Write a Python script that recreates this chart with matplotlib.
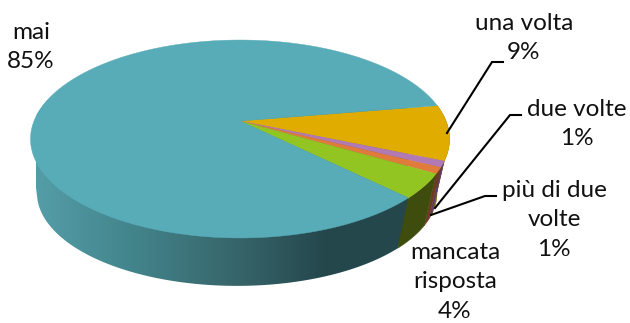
import numpy as np
import matplotlib
matplotlib.use("Agg")
import matplotlib.pyplot as plt
from matplotlib.colors import LinearSegmentedColormap
from matplotlib.patches import Polygon

# Survey answers, clockwise from the upper right of the disc
categories = ["una volta", "due volte", "più di due\nvolte", "mancata\nrisposta", "mai"]
shares = [9, 1, 1, 4, 85]

top_colors = ["#E0AC00", "#B27AB4", "#E07B3C", "#93C522", "#58ACB8"]
wall_colors = ["#7E6400", "#5C3C60", "#6E3A20", "#3E4C0D", None]
START_ANGLE = -9.5

# Label anchors (x, y of the block centre) and leader polylines
label_pos = [(524, 38), (577, 124), (554, 220), (455, 282), (31, 47)]
leaders = [
    [(447, 133), (492, 62), (503, 62)],
    [(435, 208), (510, 115), (521, 115)],
    [(431, 215), (485, 196), (496, 196)],
]

# Shading along the side of the largest slice, from left to right
teal_wall = LinearSegmentedColormap.from_list(
    "wall", [(0.0, "#549DA8"), (0.25, "#43858C"), (0.55, "#366469"),
             (0.78, "#24474C"), (1.0, "#24474C")])

plt.rcParams["font.family"] = ["Lato", "DejaVu Sans"]


def disc_point(theta_deg, A, B, k, cx, cy):
    """Project a point of the unit circle onto the tilted disc."""
    t = np.radians(theta_deg)
    u, v = np.cos(t), np.sin(t)
    d = 1 - k * v
    return cx + A * u / d, cy + B * v / d


def convex_hull(points):
    """Monotone-chain hull of a list of (x, y) pairs."""
    pts = sorted(set(map(tuple, points)))

    def half(seq):
        out = []
        for p in seq:
            while len(out) > 1 and ((out[-1][0] - out[-2][0]) * (p[1] - out[-2][1])
                                    - (out[-1][1] - out[-2][1]) * (p[0] - out[-2][0])) <= 0:
                out.pop()
            out.append(p)
        return out[:-1]

    return np.array(half(pts) + half(pts[::-1]))


TOP = dict(A=206.0, B=95.7, k=0.1818, cx=240.0, cy=121.0)
BOTTOM = dict(A=196.7, B=89.9, k=0.1818, cx=237.0, cy=176.0)

fig = plt.figure(figsize=(6.3, 3.23), dpi=100)
ax = fig.add_axes([0, 0, 1, 1])
ax.set_xlim(0, 630)
ax.set_ylim(323, 0)
ax.axis("off")

# Slice boundaries in degrees around the disc
edges = START_ANGLE + np.concatenate([[0], np.cumsum(shares)]) * 3.6


def wall_points(a, b):
    th = np.linspace(a, b, max(3, int((b - a) * 3)))
    xt, yt = disc_point(th, **TOP)
    xb, yb = disc_point(th[::-1], **BOTTOM)
    return np.column_stack([np.r_[xt, xb], np.r_[yt, yb]])


# Side wall: the shaded large slice first, then the small ones in front of it
big = len(shares) - 1
shape = Polygon(convex_hull(wall_points(edges[big], edges[big + 1])), closed=True,
                facecolor="none", edgecolor="none", transform=ax.transData)
ax.add_patch(shape)
ramp = ax.imshow(np.linspace(0, 1, 400)[None, :], cmap=teal_wall, aspect="auto",
                 extent=(36, 408, 300, 100), zorder=2)
ramp.set_clip_path(shape)
ax.set_xlim(0, 630)
ax.set_ylim(323, 0)
for i in range(big):
    ax.add_patch(Polygon(wall_points(edges[i], edges[i + 1]), closed=True,
                         facecolor=wall_colors[i], edgecolor=wall_colors[i],
                         lw=0.3, zorder=2.5))

# Top face of the disc
for i in range(len(shares)):
    th = np.linspace(edges[i], edges[i + 1], max(3, int(shares[i] * 8)))
    xs, ys = disc_point(th, **TOP)
    ax.fill(np.r_[TOP["cx"], xs], np.r_[TOP["cy"], ys],
            color=top_colors[i], lw=0.3, zorder=3)

for line in leaders:
    xs, ys = zip(*line)
    ax.plot(xs, ys, color="black", lw=1.5, zorder=4, solid_joinstyle="miter")

for name, share, (x, y) in zip(categories, shares, label_pos):
    ax.text(x, y, f"{name}\n{share}%", ha="center", va="center", fontsize=17.5,
            color="#111111", linespacing=1.5, zorder=5)

fig.savefig("out.png", dpi=100, facecolor="white")
